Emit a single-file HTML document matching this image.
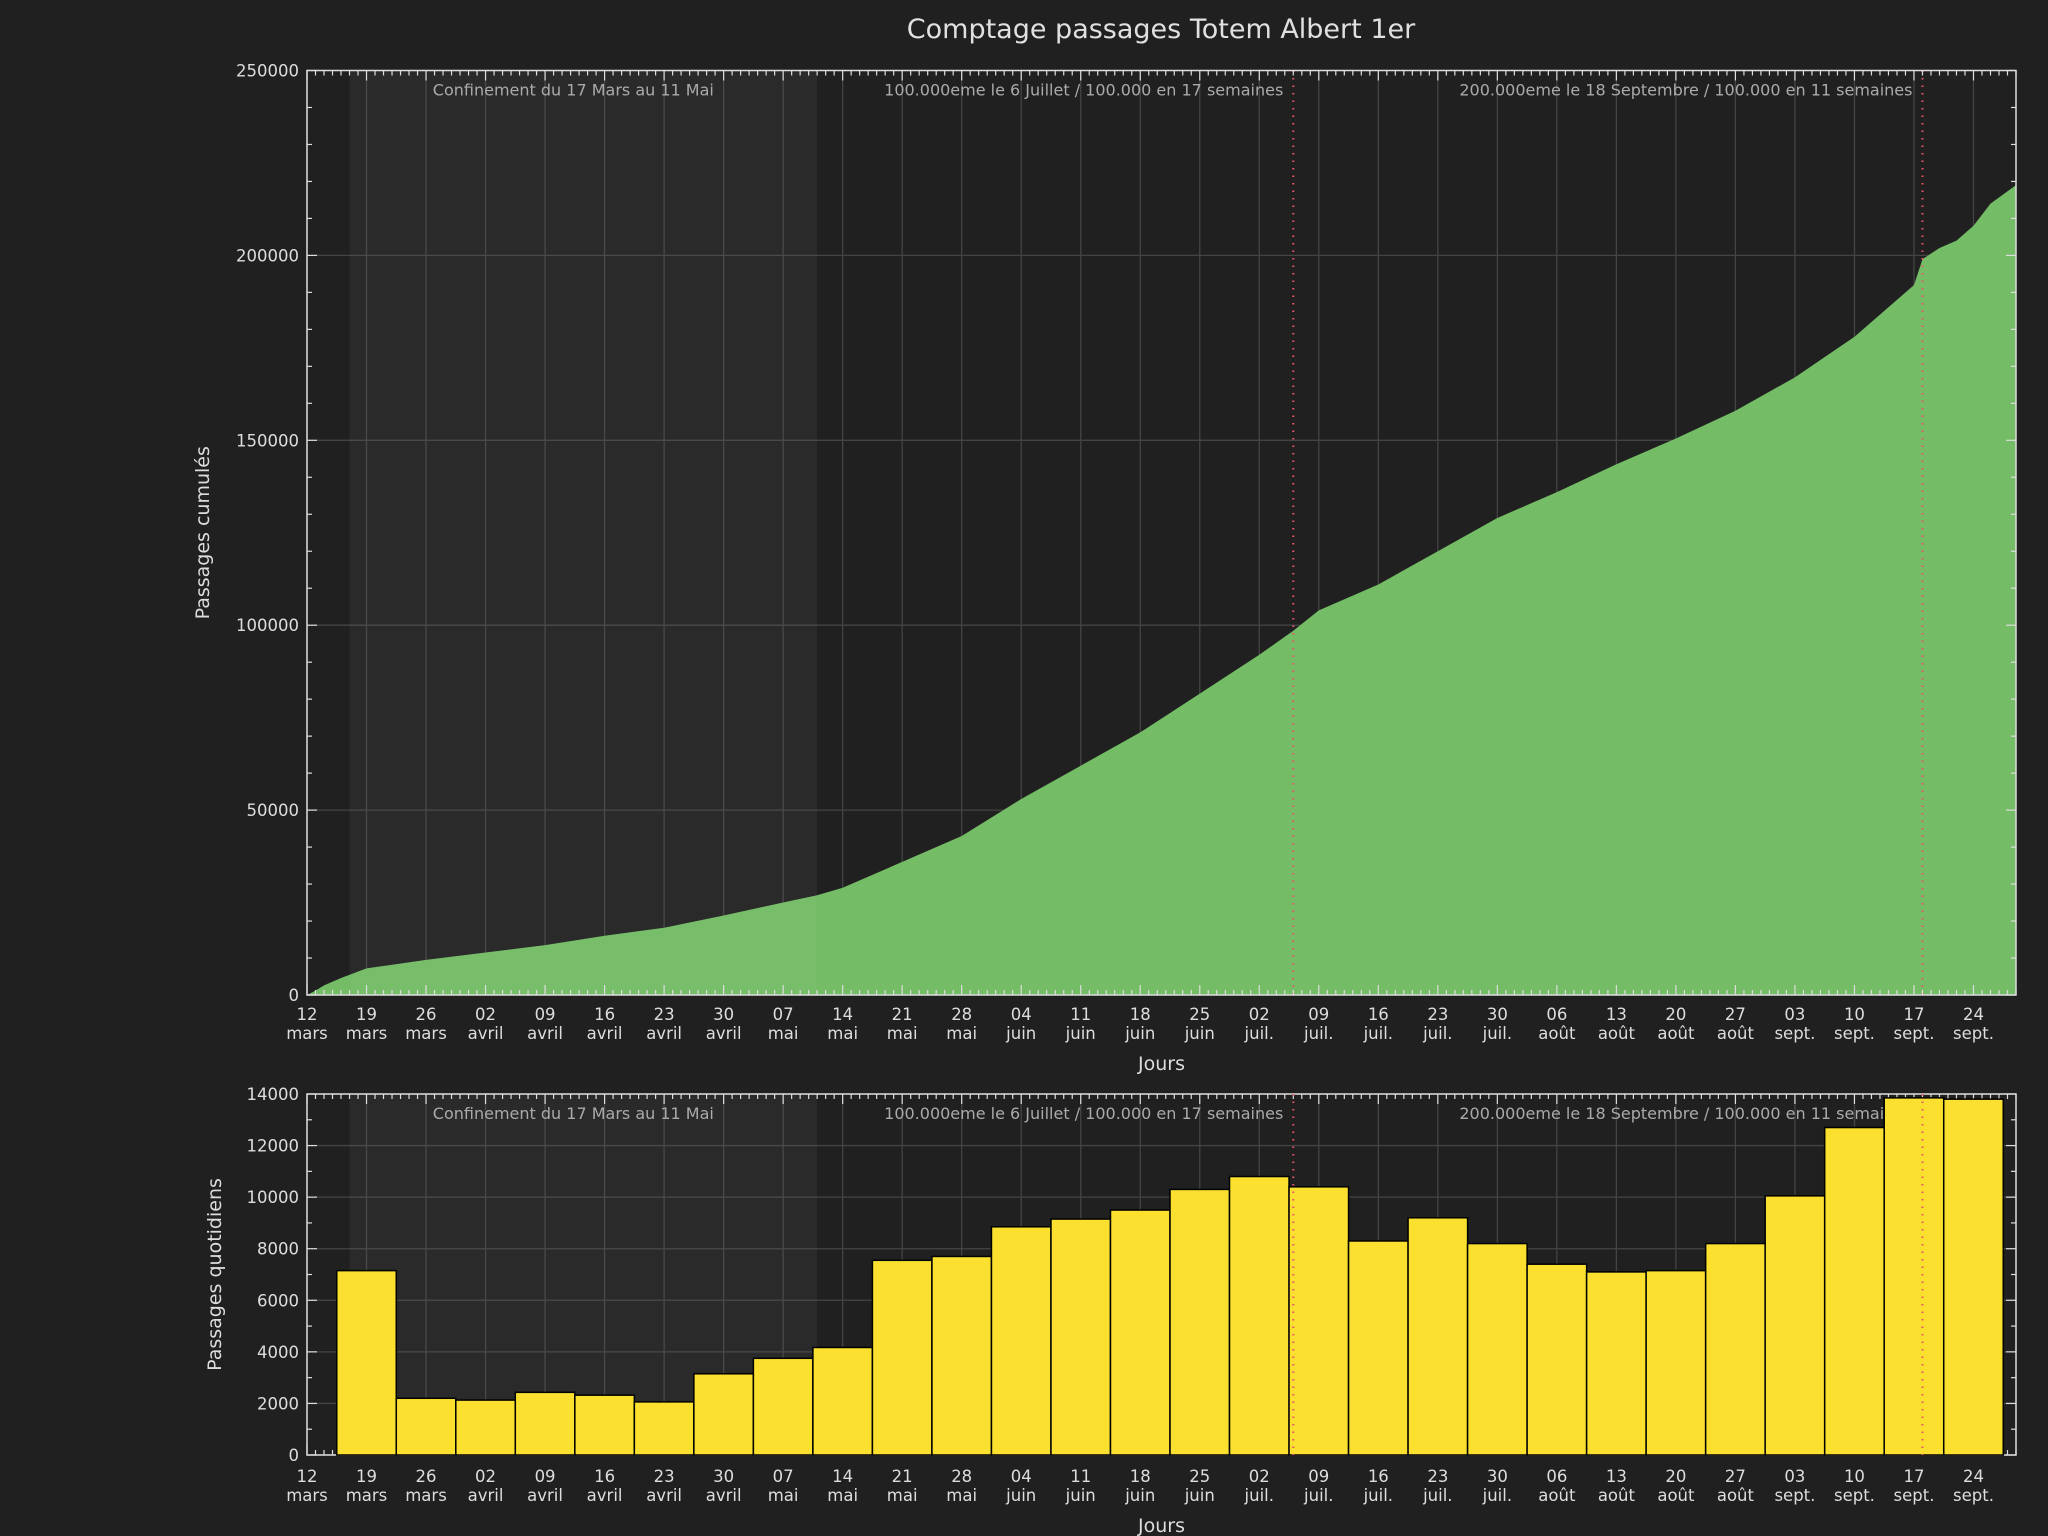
<!DOCTYPE html>
<html><head><meta charset="utf-8"><style>
html,body{margin:0;padding:0;background:#202020;}
svg{display:block;font-family:"DejaVu Sans","Liberation Sans",sans-serif;}
</style></head><body>
<svg id="chart" width="2048" height="1536" viewBox="0 0 2048 1536" xmlns="http://www.w3.org/2000/svg">
<rect width="2048" height="1536" fill="#202020"/>
<text x="1161" y="38" font-size="27" fill="#e0e0e0" text-anchor="middle">Comptage passages Totem Albert 1er</text>
<g id="top"></g>
<g id="bot"></g>
</svg>
<script>
// ---- data ----
const weekTickLabels = ["12","19","26","02","09","16","23","30","07","14","21","28","04","11","18","25","02","09","16","23","30","06","13","20","27","03","10","17","24"];
const weekTickMonths = ["mars","mars","mars","avril","avril","avril","avril","avril","mai","mai","mai","mai","juin","juin","juin","juin","juil.","juil.","juil.","juil.","juil.","août","août","août","août","sept.","sept.","sept.","sept."];
const cumDays =   [0,1,2,4,7,14,21,28,35,42,49,56,60,63,70,77,84,91,98,105,112,116,119,126,133,140,147,154,161,168,175,182,189,190,192,194,196,198,201];
const cumValues = [0,1200,2600,4600,7200,9500,11500,13500,16000,18200,21500,25000,27000,29000,36000,43000,53000,62000,71000,81500,92000,98500,104000,111000,120000,129000,136000,143500,150500,158000,167000,178000,192000,199000,202000,204000,208000,214000,219000];
const weekCenters = [7,14,21,28,35,42,49,56,63,70,77,84,91,98,105,112,119,126,133,140,147,154,161,168,175,182,189,196];
const weeklyValues = [7150,2200,2130,2430,2320,2060,3150,3750,4170,7550,7700,8850,9150,9500,10300,10800,10400,8300,9200,8200,7400,7100,7150,8200,10050,12700,13850,13800];
const topYTicks = [0,50000,100000,150000,200000,250000];
const botYTicks = [0,2000,4000,6000,8000,10000,12000,14000];
const annotations = ["Confinement du 17 Mars au 11 Mai","100.000eme le 6 Juillet / 100.000 en 17 semaines","200.000eme le 18 Septembre / 100.000 en 11 semaines"];
const lockStart = 5, lockEnd = 60, mark1 = 116, mark2 = 190;

const NS="http://www.w3.org/2000/svg";
const X0=307, X1=2016, DMAX=201;
const x = d => X0 + d*(X1-X0)/DMAX;
function mk(parent, tag, attrs, name, text){
  const e=document.createElementNS(NS,tag);
  for(const k in attrs) e.setAttribute(k,attrs[k]);
  
  
  if(text!==undefined) e.textContent=text;
  parent.appendChild(e); return e;
}
function panel(g, top, bot, ymax, yticks){
  const y = v => bot - v*(bot-top)/ymax;
  mk(g,'rect',{x:X0,y:top,width:X1-X0,height:bot-top,fill:'#202020'},'plot-area');
  mk(g,'rect',{x:x(lockStart),y:top,width:x(lockEnd)-x(lockStart),height:bot-top,fill:'#242424'},'lockdown-band');
  weekTickLabels.forEach((l,i)=>{ mk(g,'line',{x1:x(i*7),x2:x(i*7),y1:top,y2:bot,stroke:'#444444','stroke-width':1.3},'x-grid-line'); });
  yticks.forEach(v=>{ mk(g,'line',{x1:X0,x2:X1,y1:y(v),y2:y(v),stroke:'#444444','stroke-width':1.3},'y-grid-line'); });
  return y;
}
function axes(g, top, bot, ymax, yticks, yminorStep, ytitle, ytitleX, y, lblY){
  mk(g,'rect',{x:X0,y:top,width:X1-X0,height:bot-top,fill:'none',stroke:'#dddddd','stroke-width':1.5},'axes-frame');
  for(let d=0; d<=DMAX; d++){
    const L = d%7===0?10:5;
    mk(g,'line',{x1:x(d),x2:x(d),y1:top,y2:top+L,stroke:'#dddddd','stroke-width':1.2},'x-tick-top');
    mk(g,'line',{x1:x(d),x2:x(d),y1:bot,y2:bot-L,stroke:'#dddddd','stroke-width':1.2},'x-tick-bottom');
  }
  for(let v=0; v<=ymax; v+=yminorStep){
    const maj = yticks.includes(v), L = maj?10:5;
    mk(g,'line',{x1:X0,x2:X0+L,y1:y(v),y2:y(v),stroke:'#dddddd','stroke-width':1.2},'y-tick-left');
    mk(g,'line',{x1:X1,x2:X1-L,y1:y(v),y2:y(v),stroke:'#dddddd','stroke-width':1.2},'y-tick-right');
  }
  yticks.forEach(v=>{ mk(g,'text',{x:X0-8,y:y(v)+6,'font-size':16.5,fill:'#dddddd','text-anchor':'end'},'y-tick-label',String(v)); });
  weekTickLabels.forEach((l,i)=>{
    mk(g,'text',{x:x(i*7),y:lblY,'font-size':16.5,fill:'#dddddd','text-anchor':'middle'},'x-tick-label',l);
    mk(g,'text',{x:x(i*7),y:lblY+19,'font-size':16.5,fill:'#dddddd','text-anchor':'middle'},'x-tick-month',weekTickMonths[i]);
  });
  mk(g,'text',{x:(X0+X1)/2,y:lblY+50,'font-size':19,fill:'#dddddd','text-anchor':'middle'},'x-axis-title','Jours');
  const cy=(top+bot)/2;
  mk(g,'text',{x:ytitleX,y:cy,'font-size':19,fill:'#dddddd','text-anchor':'middle',transform:`rotate(-90 ${ytitleX} ${cy})`},'y-axis-title',ytitle);
}
function overlayBand(g, top, bot){
  mk(g,'rect',{x:x(lockStart),y:top,width:x(lockEnd)-x(lockStart),height:bot-top,fill:'rgba(255,255,255,0.03)'},'lockdown-overlay');
}
function texts(g, top){
  mk(g,'text',{x:(x(lockStart)+x(lockEnd))/2-10,y:top+25,'font-size':16,fill:'#aaaaaa','text-anchor':'middle'},'annotation-lockdown',annotations[0]);
  mk(g,'text',{x:x(mark1)-10,y:top+25,'font-size':16,fill:'#aaaaaa','text-anchor':'end'},'annotation-100k',annotations[1]);
  mk(g,'text',{x:x(mark2)-10,y:top+25,'font-size':16,fill:'#aaaaaa','text-anchor':'end'},'annotation-200k',annotations[2]);
}
function marks(g, top, bot){
  [mark1,mark2].forEach(m=>{ mk(g,'line',{x1:x(m),x2:x(m),y1:top,y2:bot,stroke:'#e8566a','stroke-width':2,'stroke-dasharray':'1.5 6'},'milestone-line'); });
}
// top
const gt=document.getElementById('top');
const T0=70.5,T1=995;
const yt=panel(gt,T0,T1,250000,topYTicks);
let dpath=`M${x(cumDays[0])},${T1}`;
cumDays.forEach((d,i)=>{ dpath+=` L${x(d).toFixed(1)},${yt(cumValues[i]).toFixed(1)}`; });
dpath+=` L${x(cumDays[cumDays.length-1])},${T1} Z`;
mk(gt,'path',{d:dpath,fill:'#74bc66'},'cumulative-area');
overlayBand(gt,T0,T1);
texts(gt,T0);
marks(gt,T0,T1);
axes(gt,T0,T1,250000,topYTicks,10000,'Passages cumulés',209,yt,1020);
// bottom
const gb=document.getElementById('bot');
const B0=1094,B1=1455;
const yb=panel(gb,B0,B1,14000,botYTicks);
overlayBand(gb,B0,B1);
texts(gb,B0);
axes(gb,B0,B1,14000,botYTicks,1000,'Passages quotidiens',221,yb,1482);
weekCenters.forEach((c,i)=>{
  mk(gb,'rect',{x:x(c-3.5),y:yb(weeklyValues[i]),width:x(c+3.5)-x(c-3.5),height:B1-yb(weeklyValues[i]),fill:'#fbe02f',stroke:'#000','stroke-width':1.5},'weekly-bar');
});
marks(gb,B0,B1);
</script>
</body></html>
